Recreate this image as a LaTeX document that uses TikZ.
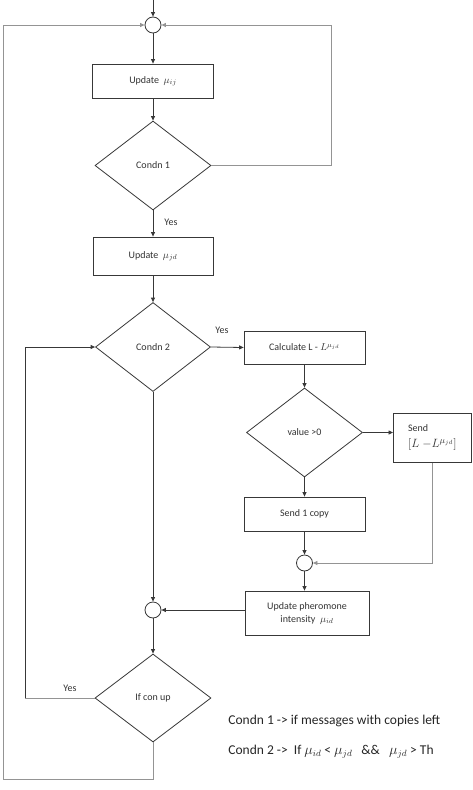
\documentclass[tikz,border=0pt]{standalone}
\usepackage{fontspec}
\setmainfont{Carlito}
\usetikzlibrary{shapes.geometric,arrows.meta}
\begin{document}
\begin{tikzpicture}[x=1pt,y=-1pt,
  line width=0.8pt,
  dk/.style={draw=black!78},
  lt/.style={draw=black!42},
  arr/.style={-{Triangle[length=4.5pt,width=4pt]}},
  box/.style={rectangle,draw=black!78,line width=0.8pt,inner sep=2pt,text=black!80,font=\fontsize{10}{12}\selectfont,align=center},
  dia/.style={diamond,draw=black!78,line width=0.8pt,inner sep=0pt,aspect=1.3,text=black!80,font=\fontsize{10}{12}\selectfont},
  junc/.style={circle,draw=black!78,line width=0.8pt,minimum size=16pt,inner sep=0pt},
  lbl/.style={text=black!80,font=\fontsize{10}{12}\selectfont,inner sep=0pt},
  legend/.style={anchor=west,text=black!85,font=\fontsize{13.5}{16}\selectfont,inner sep=0pt}]
\useasboundingbox (0,0) rectangle (472,790);
\fill[white] (0,0) rectangle (472,790);

% nodes
\coordinate (start) at (153,0);
\node[junc] (c1) at (153,25) {};
\node[box,minimum width=121pt,minimum height=34pt] (b1) at (153,81) {Update \ $\mu_{ij}$};
\node[dia,minimum width=116pt,minimum height=89pt] (d1) at (153,165.5) {Condn 1};
\node[box,minimum width=120pt,minimum height=38pt] (b2) at (153,256) {Update \ $\mu_{jd}$};
\node[dia,minimum width=115pt,minimum height=89pt] (d2) at (153,347) {Condn 2};
\node[box,minimum width=121pt,minimum height=33pt] (b3) at (304.5,347.5) {Calculate L - $L^{\mu_{jd}}$};
\node[dia,minimum width=116pt,minimum height=89pt] (d3) at (304.5,432.5) {value >0};
\node[box,minimum width=78pt,minimum height=49pt,align=left,anchor=north west,inner sep=3pt] (b4) at (393,413)
  {Send\\[4pt]{\fontsize{13}{15}\selectfont$[L\ {-}L^{\mu_{jd}}]$}};
\node[box,minimum width=121pt,minimum height=34pt] (b5) at (304.5,514) {Send 1 copy};
\node[junc] (c3) at (304.5,563) {};
\node[box,minimum width=124pt,minimum height=44pt] (b6) at (307,613) {Update pheromone\\[1pt]intensity \ $\mu_{id}$};
\node[junc] (c2) at (153,610) {};
\node[dia,minimum width=116pt,minimum height=88pt] (d4) at (153,698) {If con up};

\coordinate (r1) at (331,165.5);
\coordinate (lp) at (25,698);
\coordinate (lb) at (3,779);

% connectors
\draw[dk,arr] (start) -- (c1);
\draw[dk,arr] (c1) -- (b1);
\draw[dk,arr] (b1) -- (d1);
\draw[lt,arr] (d1.east) -- (r1) |- (c1.east);
\draw[dk,arr] (d1) -- (b2);
\node[lbl] (yes1) at (171,222) {Yes};
\draw[dk,arr] (b2) -- (d2);
\draw[dk,arr] (d2.east) -- (b3.west);
\node[lbl] (yes2) at (222,330) {Yes};
\draw[dk,arr] (b3) -- (d3);
\draw[dk,arr] (d3.east) -- (d3.east -| b4.west);
\draw[dk,arr] (d3) -- (b5);
\draw[lt,arr] (b4.south) |- (c3.east);
\draw[dk,arr] (b5) -- (c3);
\draw[dk,arr] (c3) -- (c3 |- b6.north);
\draw[dk,arr] (b6.west |- c2) -- (c2.east);
\draw[dk,arr] (d2.south) -- (c2.north);
\draw[dk,arr] (c2) -- (d4);
\draw[lt] (d4.west) -- (lp);
\draw[dk,arr] (lp) |- (d2.west);
\node[lbl] (yes3) at (70,688) {Yes};
\draw[lt,arr] (d4.south) |- (lb) |- (c1.west);

% legend
\node[legend] (lg1) at (228,721) {Condn 1 -> if messages with copies left};
\node[legend] (lg2) at (228,752) {Condn 2 -> \ If $\mu_{id}$ < $\mu_{jd}$ \ \ \&\& \ \ $\mu_{jd}$ > Th};
\end{tikzpicture}
\end{document}
